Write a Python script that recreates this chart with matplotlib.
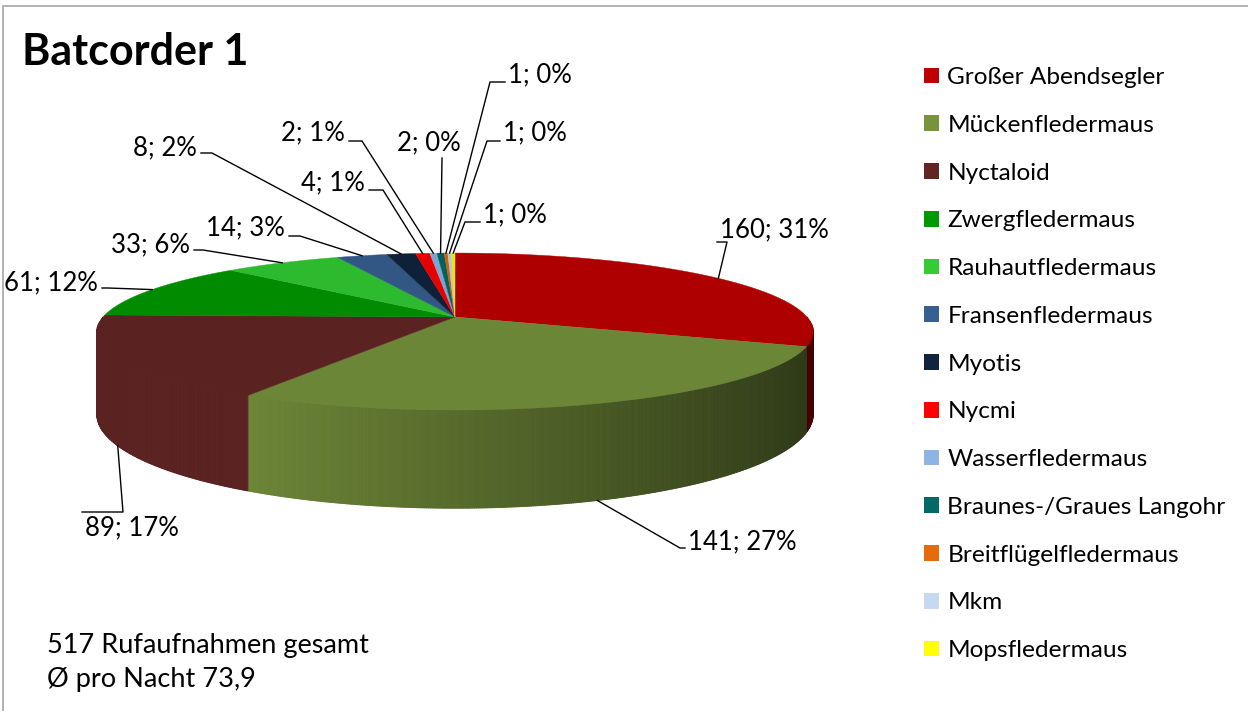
import numpy as np
import matplotlib
matplotlib.use('Agg')
import matplotlib.pyplot as plt
from matplotlib.colors import to_rgb
from matplotlib.collections import PolyCollection
from matplotlib.patches import Patch, Polygon, Rectangle

plt.rcParams['font.family'] = ['Lato', 'DejaVu Sans']

species = ['Großer Abendsegler', 'Mückenfledermaus', 'Nyctaloid', 'Zwergfledermaus',
           'Rauhautfledermaus', 'Fransenfledermaus', 'Myotis', 'Nycmi',
           'Wasserfledermaus', 'Braunes-/Graues Langohr', 'Breitflügelfledermaus',
           'Mkm', 'Mopsfledermaus']
counts = [160, 141, 89, 61, 33, 14, 8, 4, 2, 2, 1, 1, 1]
value_labels = ['160; 31%', '141; 27%', '89; 17%', '61; 12%', '33; 6%', '14; 3%',
                '8; 2%', '4; 1%', '2; 1%', '2; 0%', '1; 0%', '1; 0%', '1; 0%']
colors = ['#C00000', '#77933C', '#632523', '#009900', '#33CC33', '#376092',
          '#10243E', '#FF0000', '#8EB4E3', '#006B66', '#E46C0A', '#C6D9F1', '#FFFF00']

W, H = 1248, 711
fig = plt.figure(figsize=(W / 100, H / 100), dpi=100)
ax = fig.add_axes([0, 0, 1, 1])

# 3d pie look: centre, radii and thickness in pixels, k = perspective strength
CX, CY, RX, RY, DEPTH, K = 455, 317, 352, 75.8, 80, 0.185


def project(t, down=0.0):
    u, v = np.cos(t), np.sin(t)
    s = 1.0 / (1.0 + K * v)
    return CX + RX * u * s, CY - RY * v * s + down * DEPTH * s


top_colors = [tuple(c * 0.91 for c in to_rgb(col)) for col in colors]

# let pie work out the slice angles, then draw them in perspective
wedges, _ = ax.pie(counts, startangle=90, counterclock=False)
angles = [(w.theta1, w.theta2) for w in wedges]
for w in wedges:
    w.remove()

for (a, b), c in zip(angles, top_colors):
    ts = np.radians(np.linspace(a, b, max(3, int(b - a) * 3)))
    xs, ys = project(ts)
    pts = [(CX, CY)] + list(zip(xs, ys))
    ax.add_patch(Polygon(pts, closed=True, facecolor=c, edgecolor=c, lw=0.3, zorder=3))

# front side walls, darker towards the right
polys, fcs = [], []
for (a, b), c in zip(angles, top_colors):
    a, b = max(a, -180), min(b, 0)
    if b <= a:
        continue
    ua, ub = np.cos(np.radians(a)), np.cos(np.radians(b))
    us = np.linspace(ua, ub, max(2, int(RX * (ub - ua) / 1.5)))
    ts = -np.arccos(np.clip(us, -1, 1))
    for t0, t1, u0, u1 in zip(ts[:-1], ts[1:], us[:-1], us[1:]):
        x0, y0 = project(t0)
        x1, y1 = project(t1)
        x2, y2 = project(t1, 1)
        x3, y3 = project(t0, 1)
        polys.append([(x0, y0), (x1, y1), (x2, y2), (x3, y3)])
        um = (u0 + u1) / 2
        f = 1.0 if um < -0.5 else 1.0 - 0.58 * (um + 0.5) / 1.45
        fcs.append(tuple(v * f for v in c))
ax.add_collection(PolyCollection(polys, facecolors=fcs, edgecolors=fcs,
                                 linewidths=0.7, zorder=2))

# data labels: text position (px), alignment, knee point (px)
label_layout = [
    (720, 230, 'left', (727, 242)),
    (688, 542, 'left', (680, 548)),
    (85, 528, 'left', (123, 512)),
    (98, 283, 'right', (108, 288)),
    (190, 245, 'right', (203, 250)),
    (285, 228, 'right', (300, 236)),
    (197, 148, 'right', (212, 153)),
    (365, 183, 'right', (383, 190)),
    (345, 133, 'right', (362, 141)),
    (429, 143, 'center', (442, 158)),
    (508, 75, 'left', (490, 82)),
    (503, 133, 'left', (487, 141)),
    (483, 215, 'left', (465, 222)),
]
for (a, b), txt, (tx, ty, ha, knee) in zip(angles, value_labels, label_layout):
    m = np.radians((a + b) / 2)
    px, py = project(m, 1 if np.sin(m) < 0 else 0)
    xs, ys = [px, knee[0]], [py, knee[1]]
    if ha == 'left':
        xs.append(tx - 3)
        ys.append(knee[1])
    elif ha == 'right':
        xs.append(tx + 4)
        ys.append(knee[1])
    ax.plot(xs, ys, color='black', lw=1, zorder=4)
    ax.text(tx, ty, txt, ha=ha, va='center', fontsize=18.5, zorder=5)

ax.set_aspect('auto')
ax.set_xlim(0, W)
ax.set_ylim(H, 0)
ax.axis('off')

fig.add_artist(Rectangle((3 / W, -0.1), 1.2, 1.1 - 6 / H, transform=fig.transFigure,
                         fill=False, edgecolor='#A6A6A6', lw=1.2))

fig.text(22 / W, 1 - 52 / H, 'Batcorder 1', fontsize=31, weight='bold', va='center')

handles = [Patch(facecolor=c, label=s) for c, s in zip(colors, species)]
fig.legend(handles=handles, loc='upper left', bbox_to_anchor=(924 / W, 1 - 67 / H),
           frameon=False, fontsize=17.6, handlelength=0.61, handleheight=0.61,
           handletextpad=0.35, labelspacing=1.095, borderpad=0, borderaxespad=0)

fig.text(47 / W, 1 - 645 / H, '517 Rufaufnahmen gesamt', fontsize=19.5, va='center')
fig.text(47 / W, 1 - 680 / H, 'Ø pro Nacht 73,9', fontsize=19.5, va='center')

fig.savefig('out.png', dpi=100)
